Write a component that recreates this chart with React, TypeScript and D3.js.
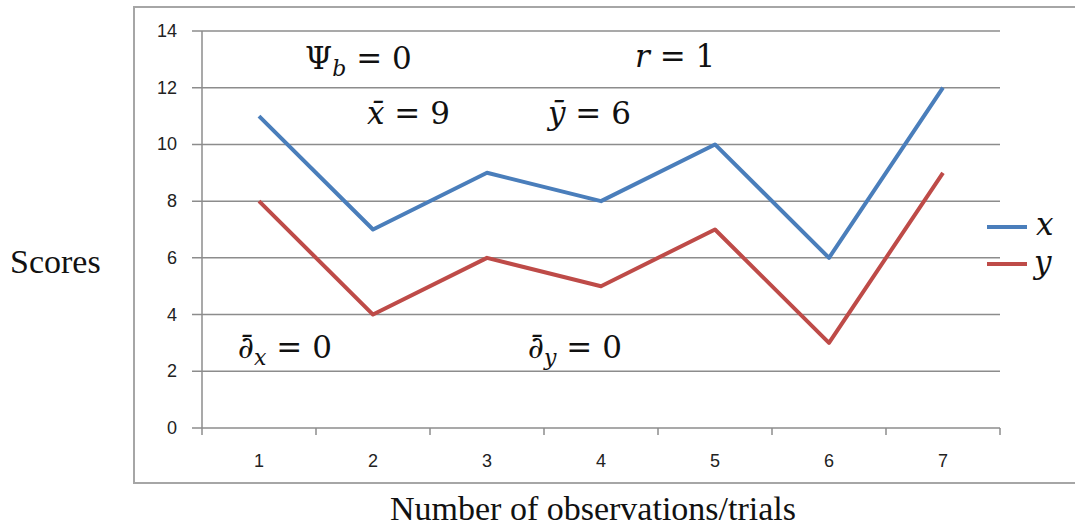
import React from "react";
import * as d3 from "d3";

const categories = [1, 2, 3, 4, 5, 6, 7];
const xSeries = [11, 7, 9, 8, 10, 6, 12];
const ySeries = [8, 4, 6, 5, 7, 3, 9];
const yTicks = [0, 2, 4, 6, 8, 10, 12, 14];

export default function App() {
  const W = 1075, H = 529;
  const left = 202, right = 1000, top = 31, bottom = 428;
  const x = d3.scaleBand<number>().domain(categories).range([left, right]);
  const y = d3.scaleLinear().domain([0, 14]).range([bottom, top]);
  const cx = (c: number) => (x(c) as number) + x.bandwidth() / 2;
  const line = d3.line<number>().x((_, i) => cx(categories[i])).y((v) => y(v));
  const math = { fontFamily: "DejaVu Serif, Liberation Serif, serif", fontSize: 31, fill: "#111" } as const;
  const sans = "Liberation Sans, Arial, sans-serif";
  const serif = "Liberation Serif, Times New Roman, serif";
  return (
    <svg width={W} height={H} style={{ position: "absolute", left: 0, top: 0 }}>
      <rect x={0} y={0} width={W} height={H} fill="#fff" />
      <rect x={134} y={7} width={1000} height={476} fill="none" stroke="#a6a6a6" strokeWidth={2} />
      {yTicks.map((t) => (
        <g key={t}>
          <line x1={left - 10} x2={right} y1={y(t)} y2={y(t)} stroke="#8c8c8c" strokeWidth={1.5} />
          <text x={left - 25} y={y(t) + 6} textAnchor="end" fontFamily={sans} fontSize={18} fill="#222">{t}</text>
        </g>
      ))}
      <line x1={left} x2={left} y1={top} y2={bottom} stroke="#8c8c8c" strokeWidth={1.5} />
      {categories.map((c, i) => (
        <line key={"t" + i} x1={(x(c) as number) + x.bandwidth()} x2={(x(c) as number) + x.bandwidth()} y1={bottom} y2={bottom + 7} stroke="#8c8c8c" strokeWidth={1.5} />
      ))}
      <line x1={left} x2={left} y1={bottom} y2={bottom + 7} stroke="#8c8c8c" strokeWidth={1.5} />
      {categories.map((c) => (
        <text key={c} x={cx(c)} y={bottom + 39} textAnchor="middle" fontFamily={sans} fontSize={18} fill="#222">{c}</text>
      ))}
      <path d={line(xSeries) || ""} fill="none" stroke="#4a7ebb" strokeWidth={4} strokeLinejoin="round" />
      <path d={line(ySeries) || ""} fill="none" stroke="#be4b48" strokeWidth={4} strokeLinejoin="round" />
      <text x={305} y={69} {...math}>Ψ<tspan fontStyle="italic" fontSize={22} dy={7}>b</tspan><tspan dy={-7}>  =  0</tspan></text>
      <text x={635} y={67} {...math}><tspan fontStyle="italic">r</tspan>  =  1</text>
      <text x={367} y={124} {...math}><tspan fontStyle="italic">x̄</tspan>  =  9</text>
      <text x={548} y={124} {...math}><tspan fontStyle="italic">ȳ</tspan>  =  6</text>
      <text x={238} y={358} {...math}><tspan fontStyle="italic">∂̄</tspan><tspan fontStyle="italic" fontSize={22} dy={7}>x</tspan><tspan dy={-7}>  =  0</tspan></text>
      <text x={528} y={358} {...math}><tspan fontStyle="italic">∂̄</tspan><tspan fontStyle="italic" fontSize={22} dy={7}>y</tspan><tspan dy={-7}>  =  0</tspan></text>
      <line x1={987} x2={1027} y1={227} y2={227} stroke="#4a7ebb" strokeWidth={4} />
      <line x1={987} x2={1027} y1={264} y2={264} stroke="#be4b48" strokeWidth={4} />
      <text x={1036} y={235} {...math} fontStyle="italic">x</text>
      <text x={1034} y={273} {...math} fontStyle="italic">y</text>
      <text x={10} y={273} fontFamily={serif} fontSize={34} fill="#111">Scores</text>
      <text x={593} y={520} textAnchor="middle" fontFamily={serif} fontSize={34} fill="#111">Number of observations/trials</text>
    </svg>
  );
}
